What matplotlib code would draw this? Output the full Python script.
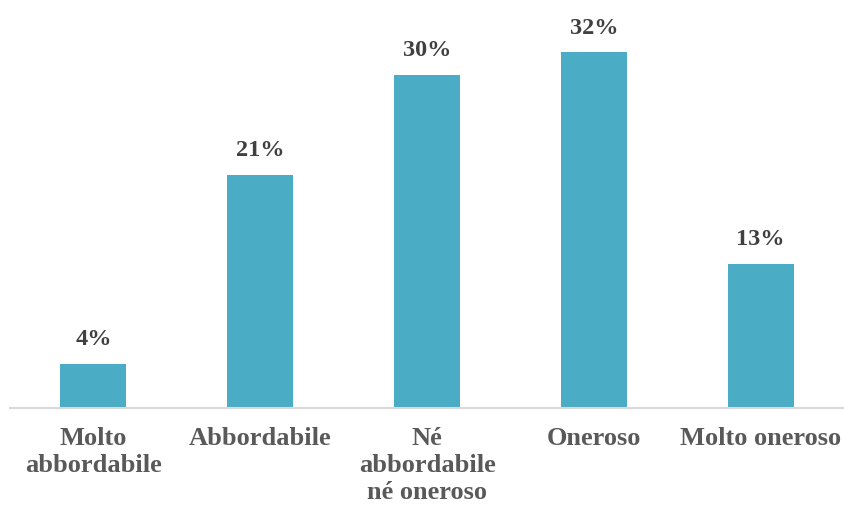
import matplotlib
matplotlib.use("Agg")
import matplotlib.pyplot as plt

categories = ["Molto\nabbordabile", "Abbordabile", "Né\nabbordabile\nné oneroso", "Oneroso", "Molto oneroso"]
values = [4, 21, 30, 32, 13]
value_labels = ["4%", "21%", "30%", "32%", "13%"]

plt.rcParams['font.family'] = ['Liberation Serif', 'DejaVu Serif']

fig = plt.figure(figsize=(8.44, 5.09), dpi=100)
ax = fig.add_axes([10 / 844, 101 / 509, 834 / 844, 389 / 509])

x = range(len(categories))
ax.bar(x, values, width=0.395, color="#4bacc6")

for xi, v, lab in zip(x, values, value_labels):
    ax.text(xi, v + 1.2, lab, ha="center", va="bottom", fontsize=17.5,
            fontweight="bold", color="#404040")

ax.set_xlim(-0.5, 4.5)
ax.set_ylim(0, 35)
ax.set_yticks([])
ax.set_xticks(list(x))
ax.set_xticklabels(categories, fontsize=19, fontweight="bold", color="#595959",
                   linespacing=1.2)
ax.tick_params(axis="x", length=0, pad=14)

for s in ["top", "right", "left"]:
    ax.spines[s].set_visible(False)
ax.spines["bottom"].set_color("#d9d9d9")
ax.spines["bottom"].set_linewidth(1.5)

fig.savefig("out.png", dpi=100)
